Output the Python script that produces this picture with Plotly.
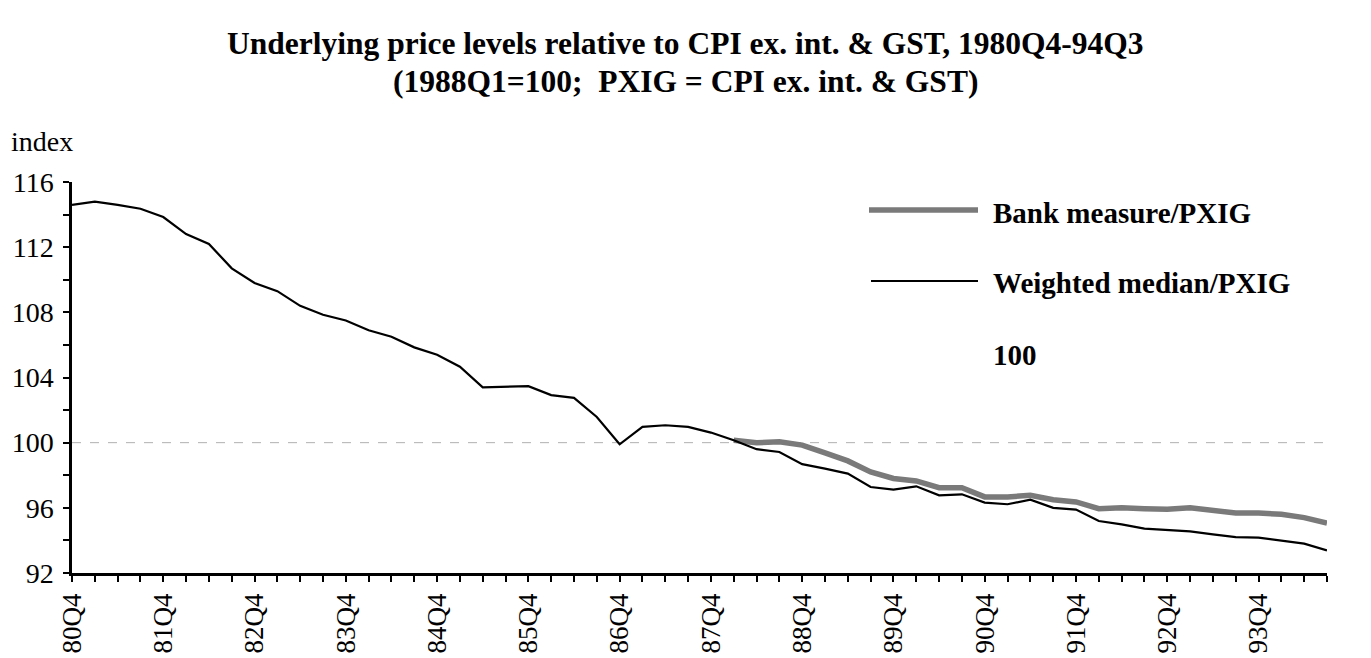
import plotly.graph_objects as go

# ---------------- data ----------------
quarters = [
    "80Q4",
    "81Q1", "81Q2", "81Q3", "81Q4",
    "82Q1", "82Q2", "82Q3", "82Q4",
    "83Q1", "83Q2", "83Q3", "83Q4",
    "84Q1", "84Q2", "84Q3", "84Q4",
    "85Q1", "85Q2", "85Q3", "85Q4",
    "86Q1", "86Q2", "86Q3", "86Q4",
    "87Q1", "87Q2", "87Q3", "87Q4",
    "88Q1", "88Q2", "88Q3", "88Q4",
    "89Q1", "89Q2", "89Q3", "89Q4",
    "90Q1", "90Q2", "90Q3", "90Q4",
    "91Q1", "91Q2", "91Q3", "91Q4",
    "92Q1", "92Q2", "92Q3", "92Q4",
    "93Q1", "93Q2", "93Q3", "93Q4",
    "94Q1", "94Q2", "94Q3",
]

weighted_median = [
    114.6, 114.8, 114.6, 114.36, 113.85, 112.8, 112.2, 110.7, 109.8, 109.3,
    108.4, 107.85, 107.5, 106.9, 106.5, 105.85, 105.4, 104.66, 103.4, 103.45,
    103.47, 102.92, 102.75, 101.58, 99.9, 100.97, 101.07, 100.97, 100.62, 100.15,
    99.6, 99.43, 98.68, 98.41, 98.1, 97.28, 97.12, 97.32, 96.77, 96.83,
    96.32, 96.22, 96.5, 96.0, 95.89, 95.19, 94.98, 94.72, 94.62, 94.55,
    94.37, 94.2, 94.17, 94.0, 93.8, 93.39,
]

bank_measure = [None] * 29 + [
    100.15, 99.99, 100.05, 99.85, 99.37, 98.88, 98.2, 97.8, 97.65, 97.24,
    97.24, 96.67, 96.67, 96.77, 96.5, 96.36, 95.95, 96.0, 95.95, 95.91,
    96.0, 95.85, 95.68, 95.68, 95.6, 95.4, 95.07,
]

reference_level = [100] * len(quarters)

x_tick_labels = ["80Q4", "81Q4", "82Q4", "83Q4", "84Q4", "85Q4", "86Q4",
                 "87Q4", "88Q4", "89Q4", "90Q4", "91Q4", "92Q4", "93Q4"]
y_tick_values = [92, 96, 100, 104, 108, 112, 116]

title_line1 = "Underlying price levels relative to CPI ex. int. & GST, 1980Q4-94Q3"
title_line2 = "(1988Q1=100;  PXIG = CPI ex. int. & GST)"
series_names = ["Bank measure/PXIG", "Weighted median/PXIG", "100"]

# ---------------- layout geometry ----------------
W, H = 1371, 658
ML, MR, MT, MB = 72, 44, 182, 85
PW = W - ML - MR
PH = H - MT - MB


def px_x(x):
    return (x - ML) / PW


def px_y(y):
    return 1 - (y - MT) / PH


FONT = "Liberation Serif"

fig = go.Figure()

fig.add_trace(go.Scatter(
    x=quarters, y=reference_level, mode="lines", name=series_names[2],
    line=dict(color="#b0b0b0", width=1, dash="dash"), showlegend=False,
))
fig.add_trace(go.Scatter(
    x=quarters, y=bank_measure, mode="lines", name=series_names[0],
    line=dict(color="#7a7a7a", width=5.5), showlegend=False,
))
fig.add_trace(go.Scatter(
    x=quarters, y=weighted_median, mode="lines", name=series_names[1],
    line=dict(color="black", width=2.2), showlegend=False,
))

ticktext = [q if q in x_tick_labels else "" for q in quarters]

fig.update_xaxes(
    type="category",
    categoryorder="array", categoryarray=quarters,
    range=[0, len(quarters) - 1],
    tickmode="array", tickvals=quarters, ticktext=ticktext,
    tickangle=-90,
    ticks="outside", ticklen=6, tickwidth=2, tickcolor="black",
    showline=True, linewidth=2.5, linecolor="black",
    showgrid=False, zeroline=False,
    tickfont=dict(family=FONT, size=27, color="black"),
    ticklabelstandoff=1,
    automargin=False,
)
fig.update_yaxes(
    range=[92, 116],
    tickmode="array", tickvals=y_tick_values,
    ticks="outside", ticklen=6, tickwidth=2, tickcolor="black",
    minor=dict(dtick=2, ticks="outside", ticklen=6, tickwidth=2, tickcolor="black", showgrid=False),
    showline=True, linewidth=2.5, linecolor="black",
    showgrid=False, zeroline=False,
    tickfont=dict(family=FONT, size=28, color="black"),
    ticklabelstandoff=4,
    automargin=False,
)

annotations = [
    dict(text="<b>" + title_line1 + "</b>", x=px_x(685.5), y=px_y(43),
         xanchor="center", yanchor="middle", font=dict(family=FONT, size=31.5, color="black")),
    dict(text="<b>" + title_line2 + "</b>", x=px_x(685.5), y=px_y(81),
         xanchor="center", yanchor="middle", font=dict(family=FONT, size=31.5, color="black")),
    dict(text="index", x=px_x(9), y=px_y(141),
         xanchor="left", yanchor="middle", font=dict(family=FONT, size=28, color="black")),
    dict(text="<b>" + series_names[0] + "</b>", x=px_x(991), y=px_y(213),
         xanchor="left", yanchor="middle", font=dict(family=FONT, size=29, color="black")),
    dict(text="<b>" + series_names[1] + "</b>", x=px_x(991), y=px_y(283),
         xanchor="left", yanchor="middle", font=dict(family=FONT, size=29, color="black")),
    dict(text="<b>" + series_names[2] + "</b>", x=px_x(991), y=px_y(355),
         xanchor="left", yanchor="middle", font=dict(family=FONT, size=29, color="black")),
]
for a in annotations:
    a.update(xref="paper", yref="paper", showarrow=False)

shapes = [
    dict(type="line", xref="paper", yref="paper",
         x0=px_x(869), x1=px_x(978), y0=px_y(210), y1=px_y(210),
         line=dict(color="#7a7a7a", width=5.5)),
    dict(type="line", xref="paper", yref="paper",
         x0=px_x(871), x1=px_x(978), y0=px_y(281), y1=px_y(281),
         line=dict(color="black", width=2.2)),
]

fig.update_layout(
    width=W, height=H,
    margin=dict(l=ML, r=MR, t=MT, b=MB, pad=0, autoexpand=False),
    paper_bgcolor="white", plot_bgcolor="white",
    showlegend=False,
    annotations=annotations,
    shapes=shapes,
    font=dict(family=FONT, color="black"),
)

fig.write_html(
    "out.html",
    config={"displayModeBar": False},
    post_script="document.body.style.margin='0';document.body.style.padding='0';document.body.style.overflow='hidden';",
)
